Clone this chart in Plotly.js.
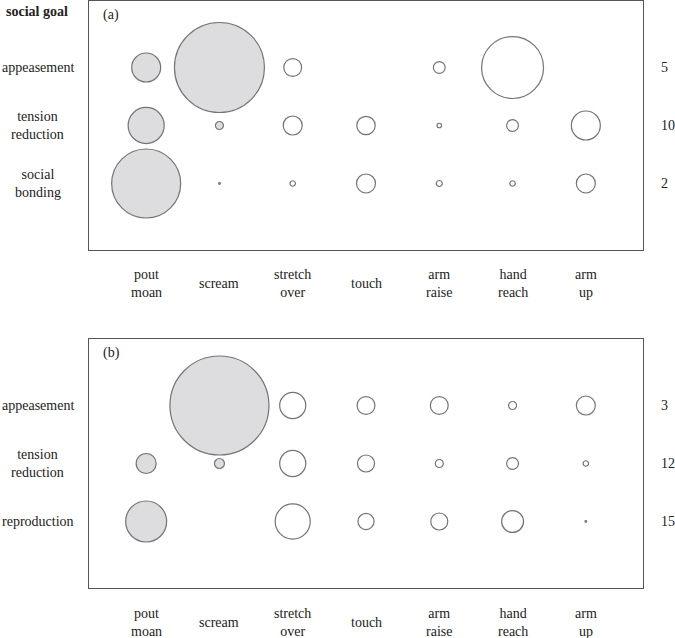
<!DOCTYPE html>
<html>
<head>
<meta charset="utf-8">
<script src="https://cdn.plot.ly/plotly-3.0.1.min.js"></script>
<style>html,body{margin:0;padding:0;background:#fff}#chart{width:675px;height:638px}</style>
</head>
<body>
<div id="chart"></div>
<script>
// ---- data ----
const categories = ['pout<br>moan', 'scream', 'stretch<br>over', 'touch', 'arm<br>raise', 'hand<br>reach', 'arm<br>up'];

// panel (a)
const rowsA = ['appeasement', 'tension<br>reduction', 'social<br>bonding'];
const totalsA = ['5', '10', '2'];
const appeasementA = [8.4, 81, 3.2, null, 1.4, 38.4, null];
const tensionA = [13, 0.64, 3.6, 3.4, 0.2, 1.4, 8.4];
const bondingA = [47.6, 0.03, 0.3, 3.6, 0.36, 0.3, 3.6];

// panel (b)
const rowsB = ['appeasement', 'tension<br>reduction', 'reproduction'];
const totalsB = ['3', '12', '15'];
const appeasementB = [null, 98, 6.8, 3.2, 3.2, 0.64, 3.6];
const tensionB = [4, 1, 6.8, 2.9, 0.64, 1.4, 0.3];
const reproductionB = [16.8, null, 12.3, 2.6, 2.9, 4.8, 0.03];

// ---- build ----
const GRAY = '#d0d0d2', WHITE = '#ffffff', EDGE = '#3a3a3a';
const FONT = '"Liberation Serif", "Times New Roman", Times, serif';

function buildTrace(series, xa, ya) {
  const x = [], y = [], s = [], c = [];
  series.forEach((vals, r) => {
    vals.forEach((v, i) => {
      if (v === null) return;
      x.push(i); y.push(series.length - 1 - r); s.push(v);
      c.push(i < 2 ? GRAY : WHITE);
    });
  });
  return {
    type: 'scatter', mode: 'markers', x: x, y: y, xaxis: xa, yaxis: ya,
    cliponaxis: false, hoverinfo: 'skip', showlegend: false,
    marker: { size: s, sizemode: 'area', sizeref: 0.02, sizemin: 0,
      color: c, line: { color: EDGE, width: 1.2 } }
  };
}

const traces = [
  buildTrace([appeasementA, tensionA, bondingA], 'x', 'y'),
  buildTrace([appeasementB, tensionB, reproductionB], 'x2', 'y2')
];

const W = 675, H = 638;
const xDom = [89 / W, 643 / W];
const yDomA = [1 - 250 / H, 1 - 1 / H];
const yDomB = [1 - 588 / H, 1 - 339 / H];

function xAxis(anchor) {
  return { domain: xDom, anchor: anchor, range: [-0.78, 6.78], showgrid: false, zeroline: false,
    showticklabels: false, ticks: '', showline: true, mirror: true, linecolor: '#555', linewidth: 1.3, fixedrange: true };
}
function yAxis(anchor, dom) {
  return { domain: dom, anchor: anchor, range: [-1.147, 3.147], showgrid: false, zeroline: false,
    showticklabels: false, ticks: '', showline: true, mirror: true, linecolor: '#555', linewidth: 1.3, fixedrange: true };
}

const annotations = [];
const tf = { family: FONT, size: 14, color: '#222' };
function panelLabels(xa, ya, rows, totals, tag) {
  categories.forEach((t, i) => annotations.push({
    xref: xa, yref: ya + ' domain', x: i, y: -34 / 249, text: t, showarrow: false,
    xanchor: 'center', yanchor: 'middle', align: 'center', font: tf }));
  rows.forEach((t, r) => annotations.push({
    xref: 'paper', yref: ya, x: 37.5 / W, y: rows.length - 1 - r, text: t, showarrow: false,
    xanchor: 'center', yanchor: 'middle', align: 'center', font: tf }));
  totals.forEach((t, r) => annotations.push({
    xref: 'paper', yref: ya, x: 659 / W, y: totals.length - 1 - r, text: t, showarrow: false,
    xanchor: 'left', yanchor: 'middle', align: 'left', font: tf }));
  annotations.push({ xref: xa + ' domain', yref: ya + ' domain', x: 12 / 554, y: 1 - 14 / 249,
    text: tag, showarrow: false, xanchor: 'left', yanchor: 'middle', font: tf });
}
panelLabels('x', 'y', rowsA, totalsA, '(a)');
panelLabels('x2', 'y2', rowsB, totalsB, '(b)');
annotations.push({ xref: 'paper', yref: 'paper', x: 4 / W, y: 1 - 11 / H, text: '<b>social goal</b>',
  showarrow: false, xanchor: 'left', yanchor: 'middle', font: tf });

const layout = {
  width: W, height: H, margin: { l: 0, r: 0, t: 0, b: 0 },
  paper_bgcolor: '#fff', plot_bgcolor: '#fff',
  xaxis: xAxis('y'), yaxis: yAxis('x', yDomA),
  xaxis2: xAxis('y2'), yaxis2: yAxis('x2', yDomB),
  annotations: annotations, font: { family: FONT }
};

Plotly.newPlot('chart', traces, layout, { staticPlot: true, displayModeBar: false });
</script>
</body>
</html>
